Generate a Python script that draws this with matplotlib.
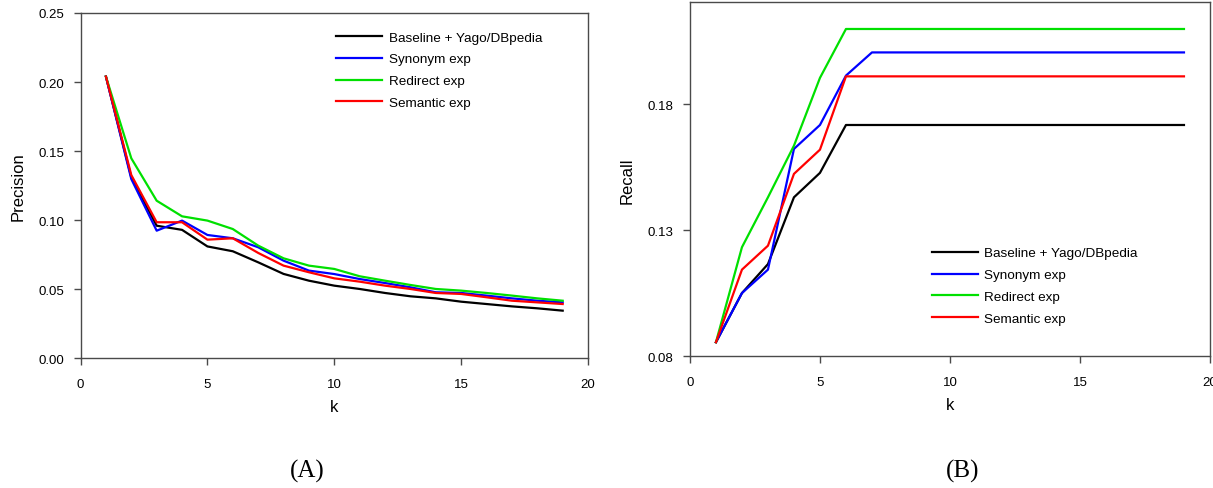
import numpy as np
import matplotlib
matplotlib.use("Agg")
import matplotlib.pyplot as plt

k = np.arange(1, 20)
labels = ["Baseline + Yago/DBpedia", "Synonym exp", "Redirect exp", "Semantic exp"]
colors = ["#000000", "#0000ff", "#00e000", "#ff0000"]

# precision@k
prec_base = [0.204, 0.131, 0.096, 0.093, 0.081, 0.0775, 0.0695, 0.0611, 0.0562, 0.0526,
             0.0502, 0.0473, 0.0449, 0.0434, 0.041, 0.0393, 0.0376, 0.0362, 0.0345]
prec_syn = [0.204, 0.1298, 0.0924, 0.0997, 0.0893, 0.0869, 0.0804, 0.0707, 0.0635, 0.061,
            0.0574, 0.0545, 0.0514, 0.0478, 0.0473, 0.0454, 0.0434, 0.0417, 0.0405]
prec_red = [0.204, 0.1448, 0.1141, 0.1028, 0.0997, 0.0936, 0.0816, 0.0724, 0.0671, 0.0647,
            0.0594, 0.0562, 0.0531, 0.0502, 0.049, 0.0473, 0.0454, 0.0434, 0.0417]
prec_sem = [0.204, 0.1327, 0.0985, 0.0985, 0.0859, 0.0869, 0.0763, 0.0671, 0.0623, 0.0579,
            0.0555, 0.0526, 0.0502, 0.0473, 0.0466, 0.0442, 0.0417, 0.0405, 0.0393]

# recall@k (flat after k=6/7)
rec_base = [0.0856, 0.1051, 0.1166, 0.1431, 0.1528, 0.1718] + [0.1718] * 13
rec_syn = [0.0856, 0.1051, 0.1144, 0.1623, 0.1718, 0.1914, 0.2006] + [0.2006] * 12
rec_red = [0.0856, 0.1233, 0.1431, 0.1636, 0.1905, 0.2099] + [0.2099] * 13
rec_sem = [0.0856, 0.1144, 0.1239, 0.1524, 0.162, 0.1911] + [0.1911] * 13

plt.rcParams["font.family"] = ["Liberation Sans", "DejaVu Sans"]

fig = plt.figure(figsize=(12.13, 4.89), dpi=100)
ax1 = fig.add_axes([0.0664, 0.2652, 0.4184, 0.7062])
ax2 = fig.add_axes([0.5688, 0.2693, 0.4287, 0.7240])


def style(ax):
    for s in ax.spines.values():
        s.set_color("#4a4a4a")
        s.set_linewidth(1.0)
    ax.tick_params(direction="out", length=5, width=1, color="#4a4a4a",
                   labelsize=9.5, top=False, right=False)
    ax.tick_params(axis="x", pad=9)
    ax.tick_params(axis="y", pad=7)
    ax.set_xlim(0, 20)
    ax.set_xticks([0, 5, 10, 15, 20])
    ax.set_xlabel("k", fontsize=12, labelpad=7)


leg_kw = dict(frameon=False, fontsize=9.7, handlelength=3.4, handletextpad=0.5,
              labelspacing=0.7, borderpad=0, loc="upper left")

for ys, c, lab in zip([prec_base, prec_syn, prec_red, prec_sem], colors, labels):
    ax1.plot(k, ys, color=c, lw=1.6, label=lab)
style(ax1)
ax1.set_ylim(0, 0.25)
ax1.set_yticks(np.arange(0, 0.26, 0.05))
ax1.set_yticklabels(["%.2f" % v for v in np.arange(0, 0.26, 0.05)])
ax1.set_ylabel("Precision", fontsize=12, labelpad=9)
ax1.legend(bbox_to_anchor=(0.491, 0.967), **leg_kw)

for ys, c, lab in zip([rec_base, rec_syn, rec_red, rec_sem], colors, labels):
    ax2.plot(k, ys, color=c, lw=1.6, label=lab)
style(ax2)
ax2.set_ylim(0.08, 0.2205)
ax2.set_yticks([0.08, 0.13, 0.18])
ax2.set_yticklabels(["0.08", "0.13", "0.18"])
ax2.set_ylabel("Recall", fontsize=12, labelpad=9)
ax2.legend(bbox_to_anchor=(0.452, 0.328), **leg_kw)

fig.text(0.253, 0.036, "(A)", ha="center", va="center", fontsize=18,
         family="Liberation Serif")
fig.text(0.794, 0.036, "(B)", ha="center", va="center", fontsize=18,
         family="Liberation Serif")

fig.savefig("out.png", dpi=100)
